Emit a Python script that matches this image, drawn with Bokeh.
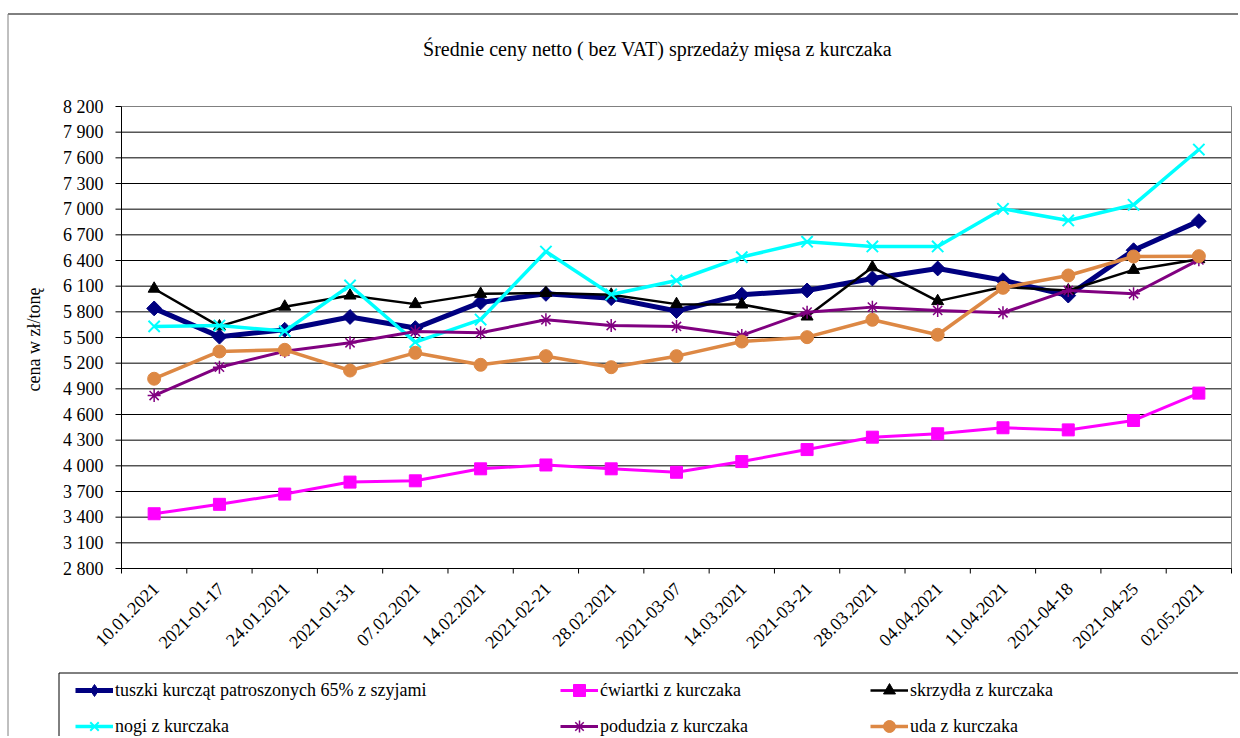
import math
from bokeh.plotting import figure
from bokeh.models import Range1d, Legend, LegendItem
from bokeh.core.properties import value
from bokeh.embed import file_html
from bokeh.resources import INLINE

# ---------------- data ----------------
dates = ["10.01.2021", "2021-01-17", "24.01.2021", "2021-01-31", "07.02.2021",
         "14.02.2021", "2021-02-21", "28.02.2021", "2021-03-07", "14.03.2021",
         "2021-03-21", "28.03.2021", "04.04.2021", "11.04.2021", "2021-04-18",
         "2021-04-25", "02.05.2021"]

tuszki = [5840, 5510, 5590, 5740, 5610, 5910, 6010, 5960, 5810, 6000, 6050, 6190, 6307, 6170, 5990, 6520, 6860]
cwiartki = [3440, 3550, 3670, 3810, 3825, 3965, 4010, 3965, 3925, 4050, 4190, 4335, 4375, 4445, 4420, 4530, 4850]
skrzydla = [6070, 5630, 5860, 5990, 5890, 6010, 6020, 6000, 5890, 5885, 5745, 6320, 5925, 6090, 6050, 6290, 6415]
nogi = [5630, 5640, 5575, 6108, 5446, 5710, 6505, 6003, 6166, 6440, 6620, 6564, 6564, 7004, 6868, 7051, 7697]
podudzia = [4822, 5153, 5340, 5438, 5570, 5555, 5707, 5640, 5629, 5524, 5796, 5855, 5816, 5789, 6050, 6011, 6408]
uda = [5018, 5337, 5356, 5114, 5321, 5181, 5282, 5153, 5282, 5453, 5504, 5707, 5532, 6081, 6225, 6447, 6451]

series_names = ["tuszki kurcząt patroszonych 65% z szyjami", "ćwiartki z kurczaka",
                "skrzydła z kurczaka", "nogi z kurczaka", "podudzia z kurczaka", "uda z kurczaka"]

y_ticks = list(range(2800, 8201, 300))
y_tick_labels = ["2 800", "3 100", "3 400", "3 700", "4 000", "4 300", "4 600", "4 900",
                 "5 200", "5 500", "5 800", "6 100", "6 400", "6 700", "7 000", "7 300",
                 "7 600", "7 900", "8 200"]

title_text = "Średnie ceny netto ( bez VAT) sprzedaży mięsa z kurczaka"
y_label = "cena w zł/tonę"

# ---------------- layout (pixels) ----------------
FONT = "'Liberation Serif', 'Times New Roman', serif"
W, H = 1238, 736
PL, PR, PT, PB = 121, 1231, 106, 568
YMIN, YMAX = y_ticks[0], y_ticks[-1]
n = len(dates)
ux = (PR - PL) / n
ky = (PB - PT) / (YMAX - YMIN)
x_start = -0.5 - PL / ux
x_end = x_start + W / ux
y_top = YMAX + PT / ky
y_bot = YMIN - (H - PB) / ky


def X(px):
    return x_start + px / ux


def Y(py):
    return y_top - py / ky


xs = list(range(n))

p = figure(width=W, height=H, output_backend="svg", toolbar_location=None,
           x_range=Range1d(x_start, x_end), y_range=Range1d(y_bot, y_top),
           x_axis_type=None, y_axis_type=None, min_border=0)
p.title.visible = False
p.outline_line_color = None
p.background_fill_color = "white"
p.border_fill_color = "white"
p.xgrid.visible = False
p.ygrid.visible = False

# outer chart border
p.segment(x0=[X(7.5), X(7.5)], y0=[Y(13.5), Y(13.5)], x1=[X(W + 5), X(7.5)], y1=[Y(13.5), Y(H + 5)],
          line_color=["#000000", "#808080"], line_width=1)

# gridlines
grid_colors = ["#000000"] * (len(y_ticks) - 1) + ["#808080"]
p.segment(x0=[X(PL)] * len(y_ticks), x1=[X(PR)] * len(y_ticks), y0=y_ticks, y1=y_ticks,
          line_color=grid_colors, line_width=1)
# right frame edge
p.segment(x0=[X(PR)], x1=[X(PR)], y0=[YMIN], y1=[YMAX], line_color="#808080", line_width=1)
# y axis line and ticks
p.segment(x0=[X(PL)], x1=[X(PL)], y0=[YMIN], y1=[YMAX], line_color="black", line_width=1)
p.segment(x0=[X(PL - 6)] * len(y_ticks), x1=[X(PL)] * len(y_ticks), y0=y_ticks, y1=y_ticks,
          line_color="black", line_width=1)
# x axis line and ticks at category boundaries
p.segment(x0=[X(PL)], x1=[X(PR)], y0=[YMIN], y1=[YMIN], line_color="black", line_width=1)
bounds = [i - 0.5 for i in range(n + 1)]
p.segment(x0=bounds, x1=bounds, y0=[YMIN] * len(bounds), y1=[Y(PB + 5)] * len(bounds),
          line_color="black", line_width=1)

# tick labels
p.text(x=[X(103)] * len(y_ticks), y=y_ticks, text=y_tick_labels,
       text_font=value(FONT), text_font_size=value("18px"), text_color="black",
       text_align="right", text_baseline="middle")
p.text(x=[i + 0.02 for i in xs], y=[Y(PB + 17)] * n, text=dates, angle=math.pi / 4,
       text_font=value(FONT), text_font_size=value("18px"), text_color="black",
       text_align="right", text_baseline="middle")

# title and axis label
p.text(x=[X(657)], y=[Y(48)], text=[title_text], text_font=value(FONT),
       text_font_size=value("20px"), text_color="black", text_align="center",
       text_baseline="middle")
p.text(x=[X(33)], y=[Y(339)], text=[y_label], angle=math.pi / 2, text_font=value(FONT),
       text_font_size=value("18px"), text_color="black", text_align="center",
       text_baseline="middle")

# legend box
p.segment(x0=[X(58.5), X(58.5)], y0=[Y(672.5), Y(672.5)], x1=[X(W + 5), X(58.5)],
          y1=[Y(672.5), Y(H + 5)], line_color="black", line_width=1)

# ---------------- series ----------------
styles = [
    dict(color="#000080", lw=5, marker="square", size=10.5, mlw=1, angle=math.pi / 4, lmarker="diamond"),
    dict(color="#ff00ff", lw=3, marker="square", size=12, mlw=1, angle=0, lmarker="square"),
    dict(color="#000000", lw=2.5, marker="triangle", size=12, mlw=1, angle=0, lmarker="triangle"),
    dict(color="#00ffff", lw=3.5, marker="x", size=16, mlw=2, angle=0, lmarker="x"),
    dict(color="#800080", lw=3, marker="asterisk", size=13, mlw=1.5, angle=0, lmarker="asterisk"),
    dict(color="#dd8844", lw=3.5, marker="circle", size=13, mlw=1, angle=0, lmarker="circle"),
]
data_series = [tuszki, cwiartki, skrzydla, nogi, podudzia, uda]

items = []
for name, vals, st in zip(series_names, data_series, styles):
    lr = p.line(xs, vals, line_color=st["color"], line_width=st["lw"])
    sr = p.scatter(xs, vals, marker=st["marker"], size=st["size"], angle=st["angle"],
                   fill_color=st["color"], line_color=st["color"], line_width=st["mlw"])
    if st["lmarker"] != st["marker"]:
        # legend-only glyph (not drawn in the plot) so the legend shows a diamond
        sr = p.scatter(x=[float("nan")], y=[float("nan")], marker=st["lmarker"], size=st["size"],
                       fill_color=st["color"], line_color=st["color"], line_width=st["mlw"])
    items.append(LegendItem(label=name, renderers=[lr, sr]))

col_x = [75, 560, 870]
col_items = [[items[0], items[3]], [items[1], items[4]], [items[2], items[5]]]
for cx, its in zip(col_x, col_items):
    lg = Legend(items=its, location=(cx, -5), orientation="vertical",
                border_line_color=None, background_fill_alpha=0, padding=0, margin=0,
                spacing=6, glyph_width=38, glyph_height=30, label_height=30,
                label_standoff=2, label_text_font=FONT, label_text_font_size="18px",
                label_text_color="black", label_text_baseline="middle")
    p.add_layout(lg, "center")

open("out.html", "w").write(file_html(p, INLINE))
